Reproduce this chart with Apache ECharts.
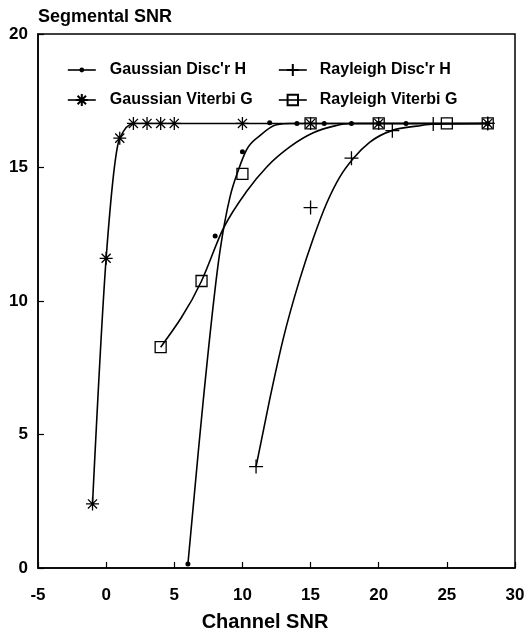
<!DOCTYPE html>
<html>
<head>
<meta charset="utf-8">
<script src="https://cdn.jsdelivr.net/npm/echarts@6/dist/echarts.min.js"></script>
<style>
  html, body { margin: 0; padding: 0; background: #fff; }
  #chart { width: 529px; height: 631px; }
</style>
</head>
<body>
<div id="chart"></div>
<script>
const FONT = "'Liberation Sans', Arial, Helvetica, sans-serif";

// Axis ranges / tick spacing
const xRange = [-5, 30];
const yRange = [0, 20];
const tickStep = 5;

// Gaussian channel, discriminator H: measured points and fitted curve
const gaussDiscX = [6, 8, 10, 12, 14, 16, 18, 20, 22, 28];
const gaussDiscY = [0.15, 12.43, 15.59, 16.68, 16.65, 16.65, 16.65, 16.65, 16.65, 16.65];
const gaussDiscCurveX = [6, 6.77, 7.13, 8.36, 9.09, 9.7, 10.3, 11.3, 12.5, 13.5, 28];
const gaussDiscCurveY = [0.15, 4.4, 6.3, 11.9, 13.9, 14.9, 15.66, 16.2, 16.6, 16.65, 16.65];

// Gaussian channel, Viterbi G (curve runs through the points)
const gaussVitX = [-1, 0, 1, 2, 3, 4, 5, 10, 15, 20, 28];
const gaussVitY = [2.4, 11.6, 16.1, 16.65, 16.65, 16.65, 16.65, 16.65, 16.65, 16.65, 16.65];

// Rayleigh channel, discriminator H: measured points and fitted curve
const rayDiscX = [11, 15, 18, 21, 24, 28];
const rayDiscY = [3.8, 13.5, 15.35, 16.38, 16.63, 16.65];
const rayDiscCurveX = [11, 12.02, 13.0, 14.2, 15.2, 16.18, 17.16, 18.13, 19.35, 21.06, 22.8, 24.1, 28];
const rayDiscCurveY = [3.8, 6.36, 8.6, 10.8, 12.35, 13.66, 14.66, 15.34, 15.95, 16.4, 16.55, 16.63, 16.65];

// Rayleigh channel, Viterbi G: measured points and fitted curve
const rayVitX = [4, 7, 10, 15, 20, 25, 28];
const rayVitY = [8.27, 10.75, 14.76, 16.65, 16.65, 16.65, 16.65];
const rayVitCurveX = [4, 7, 8.6, 10.3, 11.8, 13.5, 15.2, 16.7, 17.9, 28];
const rayVitCurveY = [8.27, 10.75, 12.72, 14.1, 15.03, 15.78, 16.3, 16.55, 16.65, 16.65];

const NAMES = {
  gd: "Gaussian Disc'r H",
  gv: "Gaussian Viterbi G",
  rd: "Rayleigh Disc'r H",
  rv: "Rayleigh Viterbi G"
};

const zip = (xs, ys) => xs.map((x, i) => [x, ys[i]]);

const ASTERISK = 'path://M6,0L6,12M0,6L12,6M1.8,1.8L10.2,10.2M10.2,1.8L1.8,10.2';
const PLUS = 'path://M6,0L6,12M0,6L12,6';

const LINE_W = 1.6;

// Monotone cubic (Fritsch–Carlson style) path through pixel points
function monotonePath(pts) {
  const n = pts.length;
  if (n < 2) return '';
  const sign = v => (v < 0 ? -1 : 1);
  const t = new Array(n);
  const slope = (i) => (pts[i + 1][1] - pts[i][1]) / (pts[i + 1][0] - pts[i][0]);
  for (let i = 1; i < n - 1; i++) {
    const h0 = pts[i][0] - pts[i - 1][0];
    const h1 = pts[i + 1][0] - pts[i][0];
    const s0 = slope(i - 1), s1 = slope(i);
    const p = (s0 * h1 + s1 * h0) / (h0 + h1);
    t[i] = (sign(s0) + sign(s1)) * Math.min(Math.abs(s0), Math.abs(s1), 0.5 * Math.abs(p)) || 0;
  }
  if (n === 2) {
    t[0] = t[1] = slope(0);
  } else {
    t[0] = (3 * slope(0) - t[1]) / 2;
    t[n - 1] = (3 * slope(n - 2) - t[n - 2]) / 2;
  }
  let d = 'M' + pts[0][0] + ',' + pts[0][1];
  for (let i = 0; i < n - 1; i++) {
    const h = (pts[i + 1][0] - pts[i][0]) / 3;
    d += 'C' + (pts[i][0] + h) + ',' + (pts[i][1] + h * t[i]) + ','
      + (pts[i + 1][0] - h) + ',' + (pts[i + 1][1] - h * t[i + 1]) + ','
      + pts[i + 1][0] + ',' + pts[i + 1][1];
  }
  return d;
}

// A smooth curve drawn through the axes' coordinate system
function curve(xs, ys) {
  const data = zip(xs, ys);
  return {
    type: 'custom',
    data: data,
    encode: { x: 0, y: 1 },
    silent: true,
    z: 2,
    renderItem: function (params, api) {
      if (params.dataIndex !== 0) return null;
      const pts = data.map(p => api.coord(p));
      return {
        type: 'path',
        shape: { pathData: monotonePath(pts) },
        style: { fill: 'none', stroke: '#000', lineWidth: LINE_W, lineJoin: 'round' }
      };
    }
  };
}

function markers(name, xs, ys, symbol, size, itemStyle) {
  return {
    type: 'line',
    name: name,
    data: zip(xs, ys),
    symbol: symbol,
    symbolSize: size,
    showAllSymbol: true,
    lineStyle: { color: '#000', width: LINE_W, opacity: 0 },
    itemStyle: itemStyle,
    emphasis: { disabled: true },
    z: 3
  };
}

const legendBase = {
  orient: 'horizontal',
  padding: 0,
  itemWidth: 28,
  selectedMode: false,
  textStyle: {
    fontFamily: FONT, fontWeight: 'bold', fontSize: 16, color: '#000',
    padding: [0, 0, 0, 9]
  },
  lineStyle: { color: '#000', width: LINE_W, opacity: 1 }
};

const chart = echarts.init(document.getElementById('chart'), null, { renderer: 'canvas' });

chart.setOption({
  animation: false,
  backgroundColor: '#fff',
  grid: {
    left: 38, right: 14, top: 34, bottom: 63,
    show: true, borderColor: '#000', borderWidth: 1.5,
    containLabel: false,
    outerBoundsMode: 'none'
  },
  legend: [
    Object.assign({}, legendBase, { data: [NAMES.gd], left: 67, top: 62, itemHeight: 6 }),
    Object.assign({}, legendBase, { data: [NAMES.gv], left: 67, top: 92, itemHeight: 15 }),
    Object.assign({}, legendBase, { data: [NAMES.rd], left: 278, top: 62, itemHeight: 15,
      textStyle: Object.assign({}, legendBase.textStyle, { padding: [0, 0, 0, 8] }) }),
    Object.assign({}, legendBase, { data: [NAMES.rv], left: 278, top: 92, itemHeight: 13,
      textStyle: Object.assign({}, legendBase.textStyle, { padding: [0, 0, 0, 8] }) })
  ],
  xAxis: {
    type: 'value',
    min: xRange[0], max: xRange[1], interval: tickStep,
    name: 'Channel SNR',
    nameLocation: 'middle',
    nameGap: 44,
    nameTextStyle: { fontFamily: FONT, fontWeight: 'bold', fontSize: 20, color: '#000', padding: [0, 23, 0, 0] },
    axisLine: { show: true, onZero: false, lineStyle: { color: '#000', width: 1.5 } },
    axisTick: { show: true, inside: true, length: 6, lineStyle: { color: '#000', width: 1.2 } },
    axisLabel: { fontFamily: FONT, fontWeight: 'bold', fontSize: 17, color: '#000', margin: 19 },
    splitLine: { show: false }
  },
  yAxis: {
    type: 'value',
    min: yRange[0], max: yRange[1], interval: tickStep,
    name: 'Segmental SNR',
    nameLocation: 'end',
    nameGap: 8,
    nameTextStyle: { fontFamily: FONT, fontWeight: 'bold', fontSize: 18, color: '#000', align: 'left' },
    axisLine: { show: true, onZero: false, lineStyle: { color: '#000', width: 1.5 } },
    axisTick: { show: true, inside: true, length: 6, lineStyle: { color: '#000', width: 1.2 } },
    axisLabel: { fontFamily: FONT, fontWeight: 'bold', fontSize: 17, color: '#000', margin: 10 },
    splitLine: { show: false }
  },
  series: [
    curve(gaussDiscCurveX, gaussDiscCurveY),
    curve(gaussVitX, gaussVitY),
    curve(rayDiscCurveX, rayDiscCurveY),
    curve(rayVitCurveX, rayVitCurveY),
    markers(NAMES.gd, gaussDiscX, gaussDiscY, 'circle', 5,
      { color: '#000', borderWidth: 0 }),
    markers(NAMES.gv, gaussVitX, gaussVitY, ASTERISK, 13,
      { color: '#000', borderColor: '#000', borderWidth: 1.3 }),
    markers(NAMES.rd, rayDiscX, rayDiscY, PLUS, 14,
      { color: '#000', borderColor: '#000', borderWidth: 1.3 }),
    markers(NAMES.rv, rayVitX, rayVitY, 'rect', 11,
      { color: 'rgba(0,0,0,0)', borderColor: '#000', borderWidth: 1.3 })
  ]
});
</script>
</body>
</html>
